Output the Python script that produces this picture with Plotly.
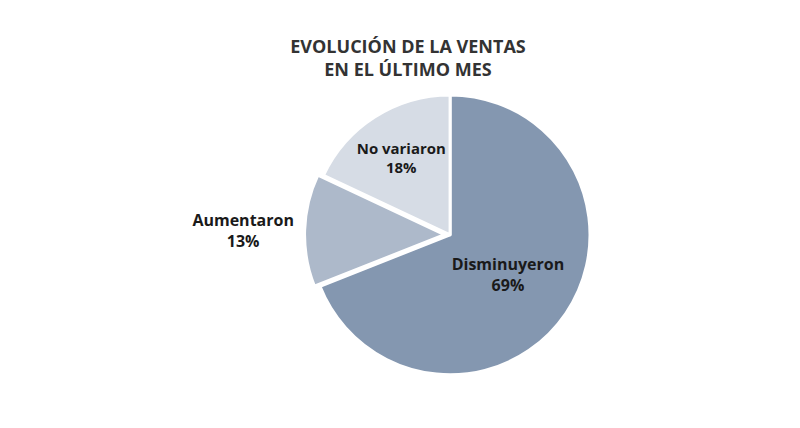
import plotly.graph_objects as go

labels = ["Disminuyeron", "Aumentaron", "No variaron"]
values = [69, 13, 18]
colors = ["#8497b0", "#adb9ca", "#d6dce5"]

fig = go.Figure(go.Pie(
    labels=labels,
    values=values,
    sort=False,
    direction="clockwise",
    rotation=0,
    pull=[0, 0.04, 0],
    marker=dict(colors=colors, line=dict(color="white", width=3)),
    texttemplate="<b>%{label}</b><br><b>%{percent:.0%}</b>",
    textposition=["inside", "outside", "inside"],
    insidetextorientation="horizontal",
    textfont=dict(family="Open Sans", size=16, color="#1a1a1a"),
    domain=dict(x=[0.155, 0.815], y=[0.13, 0.81]),
    showlegend=False,
))

fig.update_layout(
    width=800, height=428,
    margin=dict(l=0, r=0, t=0, b=0),
    paper_bgcolor="white",
    title=dict(
        text="<b>EVOLUCIÓN DE LA VENTAS<br>EN EL ÚLTIMO MES</b>",
        x=0.5, y=0.895, xanchor="center", yanchor="middle",
        font=dict(family="Open Sans", size=18, color="#333333"),
    ),
)

fig.write_html("out.html")
